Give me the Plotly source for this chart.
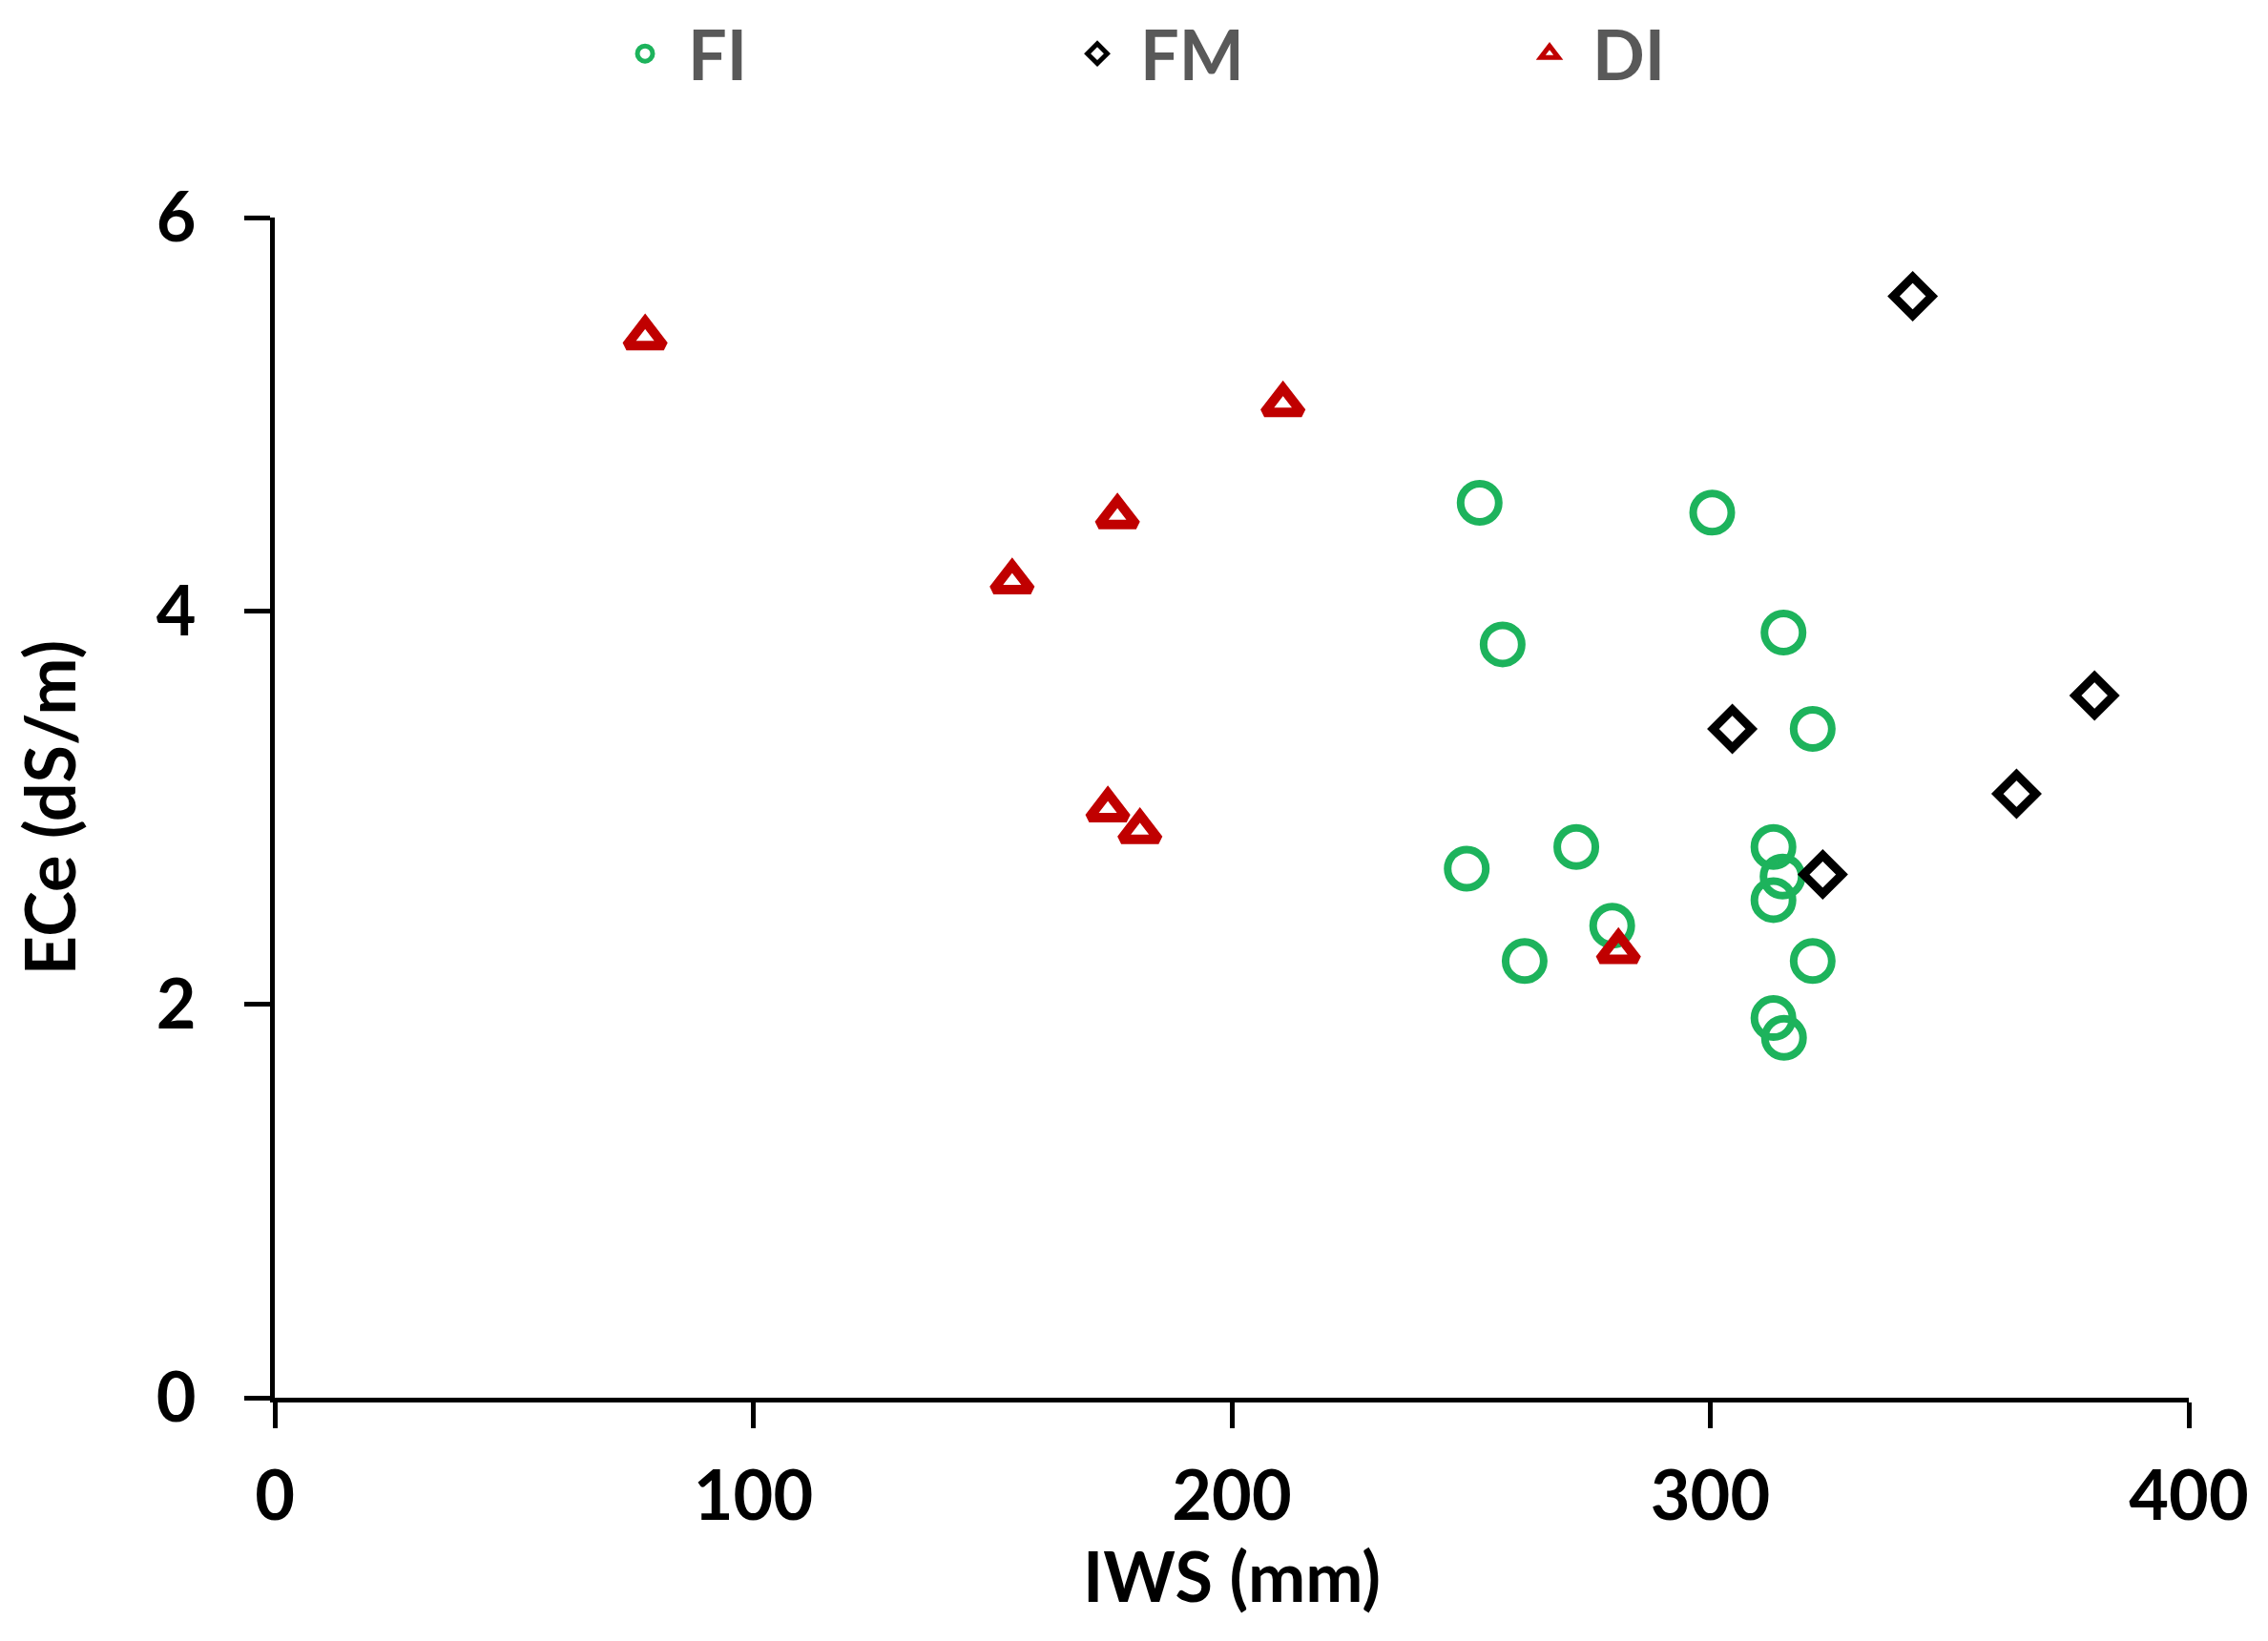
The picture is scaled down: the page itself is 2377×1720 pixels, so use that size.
# -*- coding: utf-8 -*-
"""ECe vs IWS scatter for the FI, FM and DI treatments."""

import plotly.graph_objects as go

# values
FI_IWS = [251.8, 300.4, 256.6, 315.3, 321.4, 249.1, 272.0, 313.2,
          315.1, 313.2, 279.5, 261.2, 321.4, 313.2, 315.4]
FI_ECE = [4.55, 4.50, 3.83, 3.89, 3.40, 2.69, 2.80, 2.80,
          2.65, 2.53, 2.40, 2.22, 2.22, 1.93, 1.83]

FM_IWS = [342.3, 304.6, 380.3, 364.0, 323.5]
FM_ECE = [5.60, 3.40, 3.57, 3.07, 2.66]

DI_IWS = [77.4, 154.1, 176.1, 210.7, 174.1, 180.8, 280.8]
DI_ECE = [5.39, 4.15, 4.48, 5.05, 2.99, 2.88, 2.27]

X_TICKS = [0, 100, 200, 300, 400]
Y_TICKS = [0, 2, 4, 6]

_GREEN = "#1DB35C"
_RED = "#C00000"
_BLACK = "#000000"

_FONT = "Lato, 'Open Sans', sans-serif"

_AXIS_STYLE = dict(
    showgrid=False,
    zeroline=False,
    showline=True,
    linecolor="black",
    linewidth=5,
    ticks="outside",
    ticklen=27,
    tickwidth=5,
    tickcolor="black",
    automargin=False,
    tickfont=dict(family=_FONT, size=72, color="black", weight="bold"),
    title_font=dict(family=_FONT, size=72, color="black", weight="bold"),
)

series = [
    ("FI", FI_IWS, FI_ECE, "circle-open", _GREEN, 40, 8),
    ("FM", FM_IWS, FM_ECE, "diamond-open", _BLACK, 31, 9),
    ("DI", DI_IWS, DI_ECE, "triangle-up-open", _RED, 34, 10),
]

fig = go.Figure()
for name, xs, ys, symbol, color, size, lw in series:
    fig.add_trace(go.Scatter(
        x=xs,
        y=ys,
        mode="markers",
        name=name,
        marker=dict(symbol=symbol, size=size, color=color,
                    line=dict(color=color, width=lw)),
    ))

fig.update_xaxes(
    range=[0, 400],
    tickvals=X_TICKS,
    title_text="IWS (mm)",
    title_standoff=20,
    ticklabelstandoff=10,
    **_AXIS_STYLE,
)
fig.update_yaxes(
    range=[0, 6],
    tickvals=Y_TICKS,
    title_text="ECe (dS/m)",
    title_standoff=65,
    ticklabelstandoff=36,
    **_AXIS_STYLE,
)

fig.update_layout(
    width=2377,
    height=1720,
    margin=dict(l=280, r=91, t=220, b=263, autoexpand=False),
    plot_bgcolor="white",
    paper_bgcolor="white",
    showlegend=True,
    legend=dict(
        orientation="h",
        x=0.171,
        xanchor="left",
        y=1.182,
        yanchor="top",
        entrywidth=379,
        entrywidthmode="pixels",
        itemwidth=80,
        itemsizing="trace",
        font=dict(family=_FONT, size=72, color="#595959", weight="bold"),
        bgcolor="rgba(0,0,0,0)",
    ),
)

fig.write_html("out.html")
